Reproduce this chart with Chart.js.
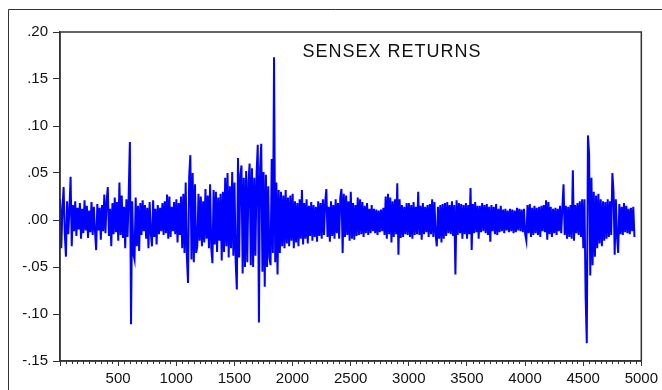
<!DOCTYPE html>
<html>
<head>
<meta charset="utf-8">
<script src="https://cdn.jsdelivr.net/npm/chart.js@4.4.1/dist/chart.umd.min.js"></script>
<style>
  html, body { margin: 0; padding: 0; background: #fff; }
</style>
</head>
<body>
<canvas id="returnsChart" width="662" height="390"></canvas>
<script>
const obsStart = 1;
const obsStep = 10;

const returns = [
    0.022, -0.030, 0.012, 0.035, -0.014, -0.039, 0.020, -0.015, 0.011, 0.046,      // 1
    -0.028, 0.016, -0.012, 0.020, -0.017, 0.013, -0.010, 0.018, -0.020, 0.012,     // 101
    -0.014, 0.021, -0.011, 0.015, -0.019, 0.010, -0.013, 0.019, -0.016, 0.014,     // 201
    -0.012, -0.032, 0.017, -0.011, 0.013, -0.021, 0.016, -0.012, 0.027, -0.014,    // 301
    0.020, 0.035, -0.017, 0.012, -0.028, 0.018, -0.015, 0.024, -0.013, 0.019,      // 401
    -0.022, 0.040, -0.016, 0.026, -0.019, 0.014, -0.030, 0.022, -0.018, 0.028,     // 501
    0.083, -0.111, 0.020, -0.036, -0.042, 0.024, -0.028, 0.015, -0.033, 0.018,     // 601
    -0.016, 0.021, -0.012, 0.016, -0.020, 0.013, -0.030, 0.019, -0.014, -0.028,    // 701
    0.021, -0.018, 0.012, -0.026, 0.016, -0.015, 0.013, -0.012, 0.018, -0.016,     // 801
    0.020, -0.014, 0.027, -0.020, 0.025, -0.018, 0.014, -0.012, 0.019, -0.015,     // 901
    0.022, -0.024, 0.018, -0.016, 0.025, -0.030, 0.028, -0.035, 0.040, -0.038,     // 1001
    -0.067, 0.046, 0.069, -0.042, 0.050, -0.045, 0.038, -0.035, -0.028, 0.028,     // 1101
    -0.022, 0.025, -0.028, 0.020, -0.024, 0.033, -0.020, 0.026, -0.030, 0.038,     // 1201
    -0.030, -0.046, 0.032, -0.026, 0.030, -0.034, 0.024, -0.022, 0.028, -0.043,    // 1301
    0.030, -0.034, 0.045, -0.028, 0.050, -0.040, 0.036, -0.030, 0.051, -0.038,     // 1401
    0.040, -0.045, -0.074, 0.066, -0.040, 0.048, 0.058, -0.057, 0.045, -0.050,     // 1501
    0.052, -0.045, 0.040, 0.060, -0.048, 0.055, -0.050, 0.045, -0.038, 0.050,      // 1601
    0.080, -0.109, 0.055, 0.081, -0.055, 0.051, -0.071, 0.048, -0.050, 0.036,      // 1701
    -0.040, -0.048, 0.065, -0.035, 0.173, -0.045, 0.040, -0.058, 0.032, -0.035,    // 1801
    0.030, -0.028, 0.026, -0.030, 0.032, -0.025, 0.024, -0.028, 0.026, -0.022,     // 1901
    0.028, -0.030, 0.020, -0.024, 0.018, -0.028, 0.022, -0.020, 0.032, -0.026,     // 2001
    0.018, -0.020, 0.022, -0.025, 0.015, -0.017, 0.019, -0.022, 0.016, -0.018,     // 2101
    0.014, -0.023, 0.020, -0.017, 0.018, -0.020, 0.022, -0.016, 0.020, 0.033,      // 2201
    -0.018, 0.014, -0.023, 0.020, -0.017, 0.016, -0.020, 0.022, -0.014, 0.018,     // 2301
    -0.020, 0.024, 0.033, -0.035, 0.028, -0.018, 0.026, -0.016, 0.020, -0.022,     // 2401
    0.030, -0.020, 0.018, -0.021, 0.016, -0.017, 0.024, -0.016, 0.022, -0.015,     // 2501
    0.019, -0.018, 0.015, -0.014, 0.018, -0.016, 0.012, -0.014, 0.016, -0.012,     // 2601
    0.012, -0.014, 0.011, -0.016, 0.010, -0.013, 0.011, -0.012, 0.013, -0.016,     // 2701
    0.025, -0.020, 0.028, -0.015, 0.024, -0.024, 0.020, -0.018, 0.022, -0.015,     // 2801
    0.039, -0.037, 0.022, -0.019, 0.016, -0.018, 0.014, -0.015, 0.018, -0.016,     // 2901
    0.018, -0.018, 0.016, -0.020, 0.019, -0.016, 0.014, -0.015, 0.030, -0.016,     // 3001
    0.015, -0.021, 0.018, -0.015, 0.014, -0.013, 0.016, -0.018, 0.017, -0.015,     // 3101
    0.022, -0.018, 0.019, -0.016, -0.028, 0.014, -0.020, 0.016, -0.024, 0.017,     // 3201
    -0.020, 0.018, -0.017, 0.019, -0.014, 0.016, -0.015, 0.020, -0.017, 0.016,     // 3301
    -0.058, 0.021, -0.016, 0.018, -0.014, 0.017, -0.020, 0.016, -0.015, 0.018,     // 3401
    -0.020, 0.016, -0.015, 0.034, -0.032, 0.017, -0.014, 0.019, -0.013, 0.015,     // 3501
    -0.020, 0.015, -0.013, 0.018, -0.012, 0.016, -0.014, 0.017, -0.016, 0.014,     // 3601
    -0.023, 0.016, -0.012, 0.014, -0.015, 0.017, -0.016, 0.012, -0.013, 0.015,     // 3701
    -0.012, 0.011, -0.014, 0.012, -0.011, 0.010, -0.013, 0.012, -0.012, 0.011,     // 3801
    -0.014, 0.010, -0.013, 0.013, -0.011, 0.012, -0.012, 0.011, -0.013, 0.012,     // 3901
    -0.015, -0.022, 0.016, -0.014, 0.017, -0.018, 0.013, -0.016, 0.015, -0.014,    // 4001
    0.013, -0.016, 0.014, -0.018, 0.015, -0.012, 0.016, -0.013, 0.021, -0.021,     // 4101
    0.019, -0.015, 0.014, -0.018, 0.012, -0.014, 0.013, -0.016, 0.012, -0.012,     // 4201
    0.015, -0.014, 0.013, 0.038, -0.016, 0.015, -0.020, 0.014, -0.018, 0.016,      // 4301
    -0.020, 0.053, -0.022, 0.016, -0.014, 0.018, -0.016, 0.020, -0.018, 0.022,     // 4401
    -0.030, 0.022, -0.082, -0.131, 0.090, 0.070, -0.059, 0.045, -0.048, 0.030,     // 4501
    -0.039, 0.026, -0.030, 0.028, -0.025, 0.022, -0.028, 0.020, -0.022, 0.019,     // 4601
    -0.020, 0.022, -0.018, 0.020, -0.016, 0.050, 0.030, -0.037, 0.022, -0.018,     // 4701
    -0.035, 0.017, -0.015, 0.014, -0.016, 0.018, -0.013, 0.015, -0.014, 0.012,     // 4801
    -0.015, 0.013, -0.012, 0.014, -0.018                                           // 4901
];

// Axis ticks and labels
const xTickValues = [0, 500, 1000, 1500, 2000, 2500, 3000, 3500, 4000, 4500, 5000];
const xTickLabels = ['', '500', '1000', '1500', '2000', '2500', '3000', '3500', '4000', '4500', '5000'];
const yTickValues = [0.20, 0.15, 0.10, 0.05, 0.00, -0.05, -0.10, -0.15];
const yTickLabels = ['.20', '.15', '.10', '.05', '.00', '-.05', '-.10', '-.15'];
const xMinorStep = 50;

const chartTitle = 'SENSEX RETURNS';
const axisColor = '#333333';
const fontFamily = "'Liberation Sans', Arial, sans-serif";

// Build the points for a linear x axis
const points = returns.map((r, i) => ({ x: obsStart + i * obsStep, y: r }));

// Frame, plot box, minor ticks and the title inside the plot
const framePlugin = {
    id: 'eviewsFrame',
    beforeDraw(chart) {
        const c = chart.ctx;
        c.save();
        c.strokeStyle = axisColor;
        c.lineWidth = 1;
        c.beginPath();
        c.moveTo(8.5, chart.height);
        c.lineTo(8.5, 9.5);
        c.lineTo(chart.width, 9.5);
        c.stroke();
        c.restore();
    },
    afterDraw(chart) {
        const c = chart.ctx;
        const area = chart.chartArea;
        const xScale = chart.scales.x;
        c.save();
        c.strokeStyle = axisColor;
        c.lineWidth = 1.5;
        c.strokeRect(area.left, area.top, area.right - area.left, area.bottom - area.top);

        // minor ticks on the x axis
        c.lineWidth = 1;
        c.beginPath();
        for (let v = xMinorStep; v < xScale.max; v += xMinorStep) {
            if (v % 500 === 0) continue;
            const px = Math.round(xScale.getPixelForValue(v)) + 0.5;
            c.moveTo(px, area.bottom);
            c.lineTo(px, area.bottom + 3);
        }
        c.stroke();

        // title
        c.fillStyle = '#111';
        c.font = '18px ' + fontFamily;
        c.letterSpacing = '1px';
        c.textAlign = 'center';
        c.textBaseline = 'alphabetic';
        c.fillText(chartTitle, 392, 57);
        c.restore();
    }
};

const ctx = document.getElementById('returnsChart').getContext('2d');
new Chart(ctx, {
    type: 'line',
    data: {
        datasets: [{
            label: chartTitle,
            data: points,
            borderColor: '#0000ff',
            borderWidth: 2,
            pointRadius: 0,
            tension: 0,
            fill: false
        }]
    },
    options: {
        responsive: false,
        animation: false,
        layout: {
            padding: { left: 0, top: 32, right: 19, bottom: 0 }
        },
        plugins: {
            legend: { display: false },
            tooltip: { enabled: false },
            title: { display: false }
        },
        scales: {
            x: {
                type: 'linear',
                min: 0,
                max: 5000,
                afterFit: axis => { axis.height = 29; },
                afterBuildTicks: axis => { axis.ticks = xTickValues.map(v => ({ value: v })); },
                ticks: {
                    autoSkip: false,
                    maxRotation: 0,
                    padding: 4,
                    color: '#111',
                    font: { family: fontFamily, size: 15 },
                    callback: (value, index) => xTickLabels[index]
                },
                grid: {
                    drawOnChartArea: false,
                    drawTicks: true,
                    tickLength: 5,
                    color: axisColor
                },
                border: { color: axisColor, width: 1.5 }
            },
            y: {
                min: -0.15,
                max: 0.20,
                afterFit: axis => { axis.width = 60; },
                afterBuildTicks: axis => { axis.ticks = yTickValues.slice().reverse().map(v => ({ value: v })); },
                ticks: {
                    padding: 5,
                    color: '#111',
                    font: { family: fontFamily, size: 15 },
                    callback: (value, index) => yTickLabels[yTickLabels.length - 1 - index]
                },
                grid: {
                    drawOnChartArea: false,
                    drawTicks: true,
                    tickLength: 7,
                    color: axisColor
                },
                border: { color: axisColor, width: 1.5 }
            }
        }
    },
    plugins: [framePlugin]
});
</script>
</body>
</html>
